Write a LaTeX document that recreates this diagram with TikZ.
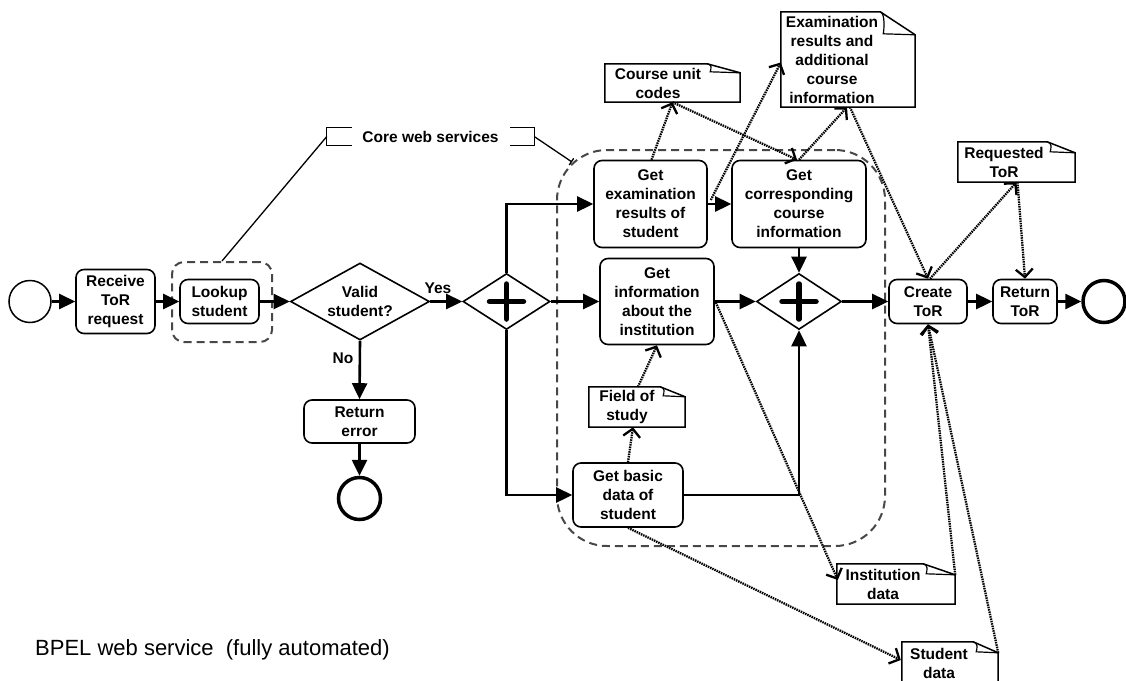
\documentclass[tikz,border=0pt]{standalone}
\usepackage{fontspec}
\setmainfont{Liberation Sans}
\usetikzlibrary{arrows.meta,shapes.geometric,calc}

% outline of a data object with a curled top-right corner
\newcommand\docframe[3]{% node, fold width, fold drop
  \draw[line width=1.5pt, line join=miter]
    (#1.south west) -- (#1.north west) -- ($(#1.north east)+(-#2,0)$)
    -- ($(#1.north east)+(0,#3)$) -- (#1.south east) -- cycle;
  \draw[line width=1.2pt]
    ($(#1.north east)+(-#2,0)$) .. controls +(5,1) and +(1,-4) ..
    ($(#1.north east)+(-#2+3,#3-1)$) -- ($(#1.north east)+(0,#3)$);
}

\begin{document}
\begin{tikzpicture}[x=1pt,y=-1pt,
  lbl/.style={font=\bfseries\fontsize{15.5}{19}\selectfont, align=center, inner sep=0pt},
  task/.style={lbl, draw, line width=1.6pt, rounded corners=8pt},
  gate/.style={draw, diamond, line width=1.6pt, inner sep=0pt},
  evstart/.style={draw, circle, line width=1.5pt, minimum size=42pt, inner sep=0pt},
  evend/.style={draw, circle, line width=3.5pt, minimum size=42pt, inner sep=0pt},
  seq/.style={line width=2.6pt, -{Triangle[length=16pt,width=15pt]}},
  plus/.style={line width=5.5pt, line cap=round},
  assoc/.style={line width=2.3pt, dash pattern=on 1.5pt off 0.9pt,
    -{Straight Barb[length=8pt,width=17pt]}},
  grp/.style={draw=black!72, line width=2pt, dash pattern=on 8pt off 5pt},
  dobj/.style n args={2}{inner sep=0pt, minimum width=#1, minimum height=#2},
]
\useasboundingbox (0,0) rectangle (1126,680);

% groups
\node[grp, rounded corners=50pt, minimum width=328, minimum height=396] (core) at (721,348) {};
\node[grp, rounded corners=12pt, minimum width=100, minimum height=80] (lookupgrp) at (222,302) {};

% annotation of the core web services
\node[lbl, minimum width=207, minimum height=17] (cws) at (430.5,136.5) {Core web services};
\draw[line width=1.3pt] ($(cws.north west)+(25,0)$) -- (cws.north west) -- (cws.south west) -- +(25,0);
\draw[line width=1.3pt] ($(cws.north east)+(-24,0)$) -- (cws.north east) -- (cws.south east) -- +(-24,0);
\draw[line width=1.3pt] (cws.west) -- (lookupgrp.north);
\draw[line width=1.3pt, -{Bar[width=8pt]}] (cws.east) -- ($(core.north west)+(16,13)$);

% events, tasks and gateways
\node[evstart] (start) at (30,301.5) {};
\node[task, minimum width=79, minimum height=64] (receive) at (115.5,301.5) {Receive\\ToR\\request};
\node[task, minimum width=79, minimum height=44] (lookup) at (219.5,301.5) {Lookup\\student};
\node[gate, shape aspect=1.8, minimum width=139, minimum height=77, lbl] (valid) at (360,301.5) {Valid\\student?};
\node[gate, minimum width=87, minimum height=56] (g1) at (506.5,301.5) {};
\node[task, minimum width=111, minimum height=43] (reterr) at (359.5,421.5) {Return\\error};
\node[evend] (end1) at (359.5,498.5) {};
\node[task, minimum width=113, minimum height=87] (getexam) at (650.5,204) {Get\\examination\\results of\\student};
\node[task, minimum width=134, minimum height=87] (getcorr) at (799,204) {Get\\corresponding\\course\\information};
\node[task, minimum width=114, minimum height=86] (getinfo) at (657,301.5) {Get\\information\\about the\\institution};
\node[gate, minimum width=85, minimum height=56] (g2) at (799,301.5) {};
\node[task, minimum width=110, minimum height=64] (getbasic) at (628,495) {Get basic\\data of\\student};
\node[task, minimum width=78, minimum height=44] (create) at (928,301.5) {Create\\ToR};
\node[task, minimum width=64, minimum height=44] (rettor) at (1025,301.5) {Return\\ToR};
\node[evend] (end2) at (1104,301.5) {};

\draw[plus] ($(g1)+(-17,0)$) -- ($(g1)+(17,0)$) ($(g1)+(0,-17.5)$) -- ($(g1)+(0,17.5)$);
\draw[plus] ($(g2)+(-17,0)$) -- ($(g2)+(17,0)$) ($(g2)+(0,-17.5)$) -- ($(g2)+(0,17.5)$);

% data objects
\node[dobj={135}{38}] (course) at (672.5,83) {};
\node[lbl] (course-t) at (658,83) {Course unit\\codes};
\docframe{course}{33}{9}
\node[dobj={134}{95}] (examd) at (848,59.5) {};
\node[lbl] (examd-t) at (832,60) {Examination\\results and\\additional\\course\\information};
\docframe{examd}{35}{23}
\node[dobj={117}{40}] (reqtor) at (1016.5,162) {};
\node[lbl] (reqtor-t) at (1004,162) {Requested\\ToR};
\docframe{reqtor}{28}{11}
\node[dobj={96}{40}] (field) at (637,407) {};
\node[lbl] (field-t) at (627,407) {Field of\\study};
\docframe{field}{25}{10}
\node[dobj={118}{40}] (inst) at (896,584) {};
\node[lbl] (inst-t) at (883,584) {Institution\\data};
\docframe{inst}{32}{11}
\node[dobj={96}{40}] (student) at (950,662) {};
\node[lbl] (student-t) at (939,663) {Student\\data};
\docframe{student}{25}{11}

% sequence flows
\draw[seq] (start) -- (receive);
\draw[seq] (receive) -- (lookup);
\draw[seq] (lookup) -- (valid.west);
\draw[seq] (valid.east) -- (g1.west);
\draw[seq] (valid.south) -- (reterr.north);
\draw[seq] (reterr) -- (end1);
\draw[seq] (g1.north) |- (getexam.west);
\draw[seq] (g1.east) -- (getinfo.west);
\draw[seq] (g1.south) |- (getbasic.west);
\draw[seq] (getexam) -- (getcorr);
\draw[seq] (getinfo) -- (g2.west);
\draw[seq] (getcorr.south) -- (g2.north);
\draw[seq] (getbasic.east) -| (g2.south);
\draw[seq] (g2.east) -- (create.west);
\draw[seq] (create) -- (rettor);
\draw[seq] (rettor) -- (end2);

\node[lbl] (yes) at (438,288) {Yes};
\node[lbl] (no) at (343,358) {No};

% data associations
\draw[assoc] ($(getexam.north)+(1,0)$) -- (course.south);
\draw[assoc] (course.south) -- ($(getcorr.north)+(-2,0)$);
\draw[assoc] ($(getexam.east)+(3,-4)$) -- ($(examd.west)+(0,3)$);
\draw[assoc] (getcorr.north) -- ($(examd.south)+(-1,0)$);
\draw[assoc] ($(examd.south)+(2,0)$) -- (create.north);
\draw[assoc] ($(create.north)+(2,0)$) -- (reqtor.south);
\draw[assoc] ($(reqtor.south)+(1,0)$) -- (rettor.north);
\draw[assoc] ($(getinfo.east)+(1,1)$) -- ($(inst.west)+(1,-4)$);
\draw[assoc] ($(inst.north east)+(0,11)$) -- (create.south);
\draw[assoc] ($(student.north east)+(0,11)$) -- (create.south);
\draw[assoc] (getbasic.south) -- ($(student.west)+(-1,-2)$);
\draw[assoc] (getbasic.north) -- ($(field.south)+(-4,0)$);
\draw[assoc] ($(field.north)+(1,0)$) -- (getinfo.south);

\node[anchor=west, inner sep=0pt, font=\fontsize{22}{26}\selectfont] (title) at (35,650) {BPEL web service\ \ (fully automated)};
\end{tikzpicture}
\end{document}
